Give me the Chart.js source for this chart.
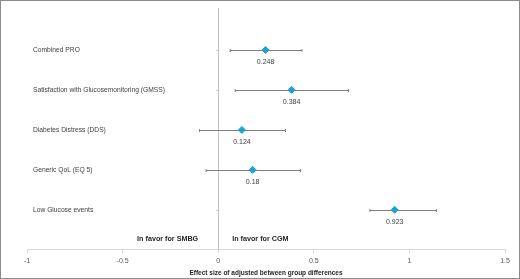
<!DOCTYPE html>
<html>
<head>
<meta charset="utf-8">
<script src="https://cdn.jsdelivr.net/npm/chart.js@4.4.0/dist/chart.umd.min.js"></script>
<style>
  html, body { margin: 0; padding: 0; background: #fff; }
  #wrap { width: 520px; height: 279px; }
</style>
</head>
<body>
<div id="wrap"><canvas id="forest" width="520" height="279"></canvas></div>
<script>
const categories = ['Combined PRO', 'Satisfaction with Glucosemonitoring (GMSS)', 'Diabetes Distress (DDS)', 'Generic QoL (EQ 5)', 'Low Glucose events'];
const effects = [0.248, 0.384, 0.124, 0.18, 0.923];
const lower = [0.063, 0.089, -0.098, -0.063, 0.794];
const upper = [0.438, 0.682, 0.352, 0.431, 1.141];
const xTicks = [-1, -0.5, 0, 0.5, 1, 1.5];
const favorLabels = ['In favor for SMBG', 'In favor for CGM'];
const xTitle = 'Effect size of adjusted between group differences';

const FONT = '"Liberation Sans", Arial, sans-serif';

const points = effects.map((v, i) => ({ x: v, y: i + 1 }));

const forestPlugin = {
  id: 'forest',
  beforeDatasetsDraw(chart) {
    const { ctx, chartArea, scales } = chart;
    const x = scales.x, y = scales.y;
    ctx.save();
    // zero line
    const x0 = Math.round(x.getPixelForValue(0)) + 0.5;
    ctx.strokeStyle = '#bfbfbf';
    ctx.lineWidth = 1;
    ctx.beginPath();
    ctx.moveTo(x0, chartArea.top - 2);
    ctx.lineTo(x0, chartArea.bottom);
    ctx.stroke();
    // small ticks on zero line
    categories.forEach((c, i) => {
      const py = Math.round(y.getPixelForValue(i + 1)) + 0.5;
      ctx.beginPath();
      ctx.moveTo(x0 - 2, py);
      ctx.lineTo(x0, py);
      ctx.stroke();
    });
    // error bars
    ctx.strokeStyle = '#7f7f7f';
    lower.forEach((lo, i) => {
      const py = Math.round(y.getPixelForValue(i + 1)) + 0.5;
      const a = x.getPixelForValue(lo), b = x.getPixelForValue(upper[i]);
      ctx.beginPath();
      ctx.moveTo(a, py); ctx.lineTo(b, py);
      ctx.moveTo(a, py - 1.5); ctx.lineTo(a, py + 1.5);
      ctx.moveTo(b, py - 1.5); ctx.lineTo(b, py + 1.5);
      ctx.stroke();
    });
    ctx.restore();
  },
  afterDatasetsDraw(chart) {
    const { ctx, chartArea, scales } = chart;
    const x = scales.x, y = scales.y;
    ctx.save();
    ctx.fillStyle = '#404040';
    ctx.font = '6.7px ' + FONT;
    // category labels
    ctx.textAlign = 'left';
    ctx.textBaseline = 'middle';
    categories.forEach((c, i) => {
      ctx.fillText(c, chartArea.left + 6, y.getPixelForValue(i + 1));
    });
    // value labels
    ctx.font = '7px ' + FONT;
    ctx.textAlign = 'center';
    effects.forEach((v, i) => {
      ctx.fillText(String(v), x.getPixelForValue(v), y.getPixelForValue(i + 1) + 12);
    });
    // favor labels
    ctx.font = 'bold 7.2px ' + FONT;
    ctx.fillStyle = '#262626';
    const x0 = x.getPixelForValue(0);
    const fy = chartArea.bottom - 11;
    ctx.textAlign = 'right';
    ctx.fillText(favorLabels[0], x0 - 20, fy);
    ctx.textAlign = 'left';
    ctx.fillText(favorLabels[1], x0 + 14, fy);
    // frame
    ctx.strokeStyle = '#8c8c8c';
    ctx.lineWidth = 1;
    ctx.strokeRect(0.5, 0.5, chart.width - 1, chart.height - 1);
    ctx.restore();
  }
};

new Chart(document.getElementById('forest'), {
  type: 'scatter',
  data: {
    datasets: [{
      data: points,
      pointStyle: 'rectRot',
      pointRadius: 3.5,
      pointHoverRadius: 3.5,
      backgroundColor: '#1ba1d8',
      borderColor: '#1ba1d8',
      borderWidth: 1
    }]
  },
  options: {
    responsive: false,
    animation: false,
    events: [],
    layout: { padding: { left: 27, right: 15, top: 10, bottom: 1 } },
    plugins: { legend: { display: false }, tooltip: { enabled: false } },
    scales: {
      x: {
        type: 'linear',
        min: xTicks[0],
        max: xTicks[xTicks.length - 1],
        afterBuildTicks(scale) { scale.ticks = xTicks.map(v => ({ value: v })); },
        grid: { display: true, drawOnChartArea: false, drawTicks: true, tickLength: 3, color: '#d9d9d9' },
        border: { display: true, color: '#d9d9d9' },
        ticks: { color: '#595959', font: { family: FONT, size: 7 }, padding: 4, maxRotation: 0, callback: v => String(v) },
        title: { display: true, text: xTitle, color: '#262626', font: { family: FONT, size: 6.5, weight: 'bold' }, padding: { top: 0, bottom: 1 } }
      },
      y: {
        type: 'linear',
        reverse: true,
        min: 0,
        max: 6,
        display: false
      }
    }
  },
  plugins: [forestPlugin]
});
</script>
</body>
</html>
